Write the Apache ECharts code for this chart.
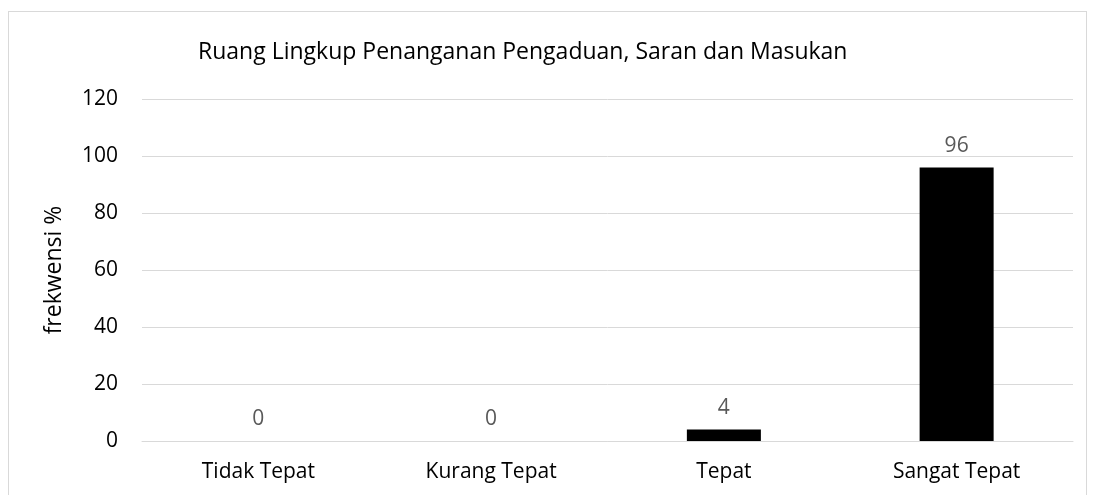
<!DOCTYPE html>
<html>
<head>
<meta charset="utf-8">
<script src="https://cdn.jsdelivr.net/npm/echarts@6/dist/echarts.min.js"></script>
<style>
  html, body { margin: 0; padding: 0; background: #fff; }
  #frame { position: absolute; left: 8px; top: 11px; width: 1079px; height: 500px; border: 1px solid #d9d9d9; box-sizing: border-box; }
  #chart { position: absolute; left: 0; top: 0; width: 1096px; height: 495px; }
</style>
</head>
<body>
<div id="frame"></div>
<div id="chart"></div>
<script>
const titleText = 'Ruang Lingkup Penanganan Pengaduan, Saran dan Masukan'
const categories = ['Tidak Tepat', 'Kurang Tepat', 'Tepat', 'Sangat Tepat']
const values = [0, 0, 4, 96]
const yName = 'frekwensi %'

const font = '"Open Sans", "Liberation Sans", sans-serif'
const option = {
  animation: false,
  title: {
    text: titleText,
    left: 193,
    top: 36,
    textStyle: { fontFamily: font, fontSize: 23, fontWeight: 'normal', color: '#000' }
  },
  grid: { left: 142, right: 23, top: 99, bottom: 54, containLabel: false },
  xAxis: {
    type: 'category',
    data: categories,
    axisLine: { lineStyle: { color: '#d9d9d9' } },
    axisTick: { show: false },
    axisLabel: { fontFamily: font, fontSize: 21, color: '#000', margin: 21 }
  },
  yAxis: {
    type: 'value',
    min: 0,
    max: 120,
    interval: 20,
    name: yName,
    nameLocation: 'middle',
    nameGap: 76,
    nameTextStyle: { fontFamily: font, fontSize: 23, color: '#000' },
    axisLine: { show: false },
    axisTick: { show: false },
    splitLine: { lineStyle: { color: '#d9d9d9', width: 1 } },
    axisLabel: { fontFamily: font, fontSize: 21, color: '#000', margin: 24 }
  },
  series: [{
    type: 'bar',
    data: values,
    barWidth: '31.8%',
    itemStyle: { color: '#000' },
    label: {
      show: true,
      position: 'top',
      distance: 11,
      fontFamily: font,
      fontSize: 21,
      color: '#595959'
    }
  }]
}
const myChart = echarts.init(document.getElementById('chart'))
myChart.setOption(option, true)
</script>
</body>
</html>
